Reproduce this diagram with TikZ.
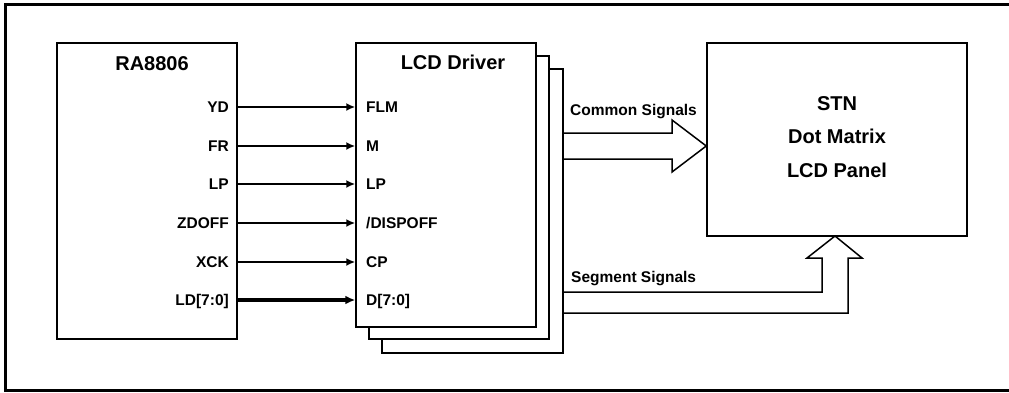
\documentclass[tikz,border=0pt]{standalone}
\usepackage{fontspec}
\setmainfont{Liberation Sans}
\usetikzlibrary{arrows.meta,positioning,calc}
\tikzset{block/.style={draw, line width=1.5pt, fill=white, minimum width=180pt, inner sep=0pt}}
\tikzset{blocktitle/.style={font=\fontsize{20}{24}\selectfont\bfseries, inner sep=0pt}}
\tikzset{pinlabel/.style={font=\fontsize{15.5}{18}\selectfont\bfseries, inner sep=0pt, text height=11pt, text depth=0pt}}
\tikzset{wire/.style={line width=2.6pt, -{Latex[length=9pt,width=8pt]}}}
\tikzset{buswire/.style={line width=4.5pt, -{Latex[length=10pt,width=9pt]}}}
\tikzset{bus/.style={line width=1.5pt, line join=miter}}

\begin{document}
\begin{tikzpicture}[x=1pt,y=-1pt]
\useasboundingbox (0,0) rectangle (1009,392);
\draw[line width=3pt] (5,4) rectangle (1010,390);

% Nodes
\node (ra) [block, minimum height=296pt] at (147,191) {};
\node (ra_title) [blocktitle, anchor=base] at (152,70.5) {RA8806};

\node (drv3) [block, minimum width=181pt, minimum height=284pt] at (472.5,211) {};
\node (drv2) [block, minimum height=283pt] at (459,197.5) {};
\node (drv) [block, minimum height=284pt] at (446,185) {};
\node (drv_title) [blocktitle, anchor=base] at (453,69) {LCD Driver};

\node (panel) [block, minimum width=260pt, minimum height=193pt] at (837,139.5) {};
\node (panel_text) [blocktitle, align=center, font=\fontsize{20}{33.5}\selectfont\bfseries] at (837,137) {STN\\ Dot Matrix\\ LCD Panel};

% Pins
\node (yd) [pinlabel, anchor=east] at (229,107) {YD};
\node (fr) [pinlabel, anchor=east] at (229,146) {FR};
\node (lp) [pinlabel, anchor=east] at (229,184) {LP};
\node (zdoff) [pinlabel, anchor=east] at (229,223) {ZDOFF};
\node (xck) [pinlabel, anchor=east] at (229,262) {XCK};
\node (ld) [pinlabel, anchor=east] at (229,300) {LD[7:0]};

\node (flm) [pinlabel, anchor=west] at (366,107) {FLM};
\node (m) [pinlabel, anchor=west] at (366,146) {M};
\node (lp_in) [pinlabel, anchor=west] at (366,184) {LP};
\node (dispoff) [pinlabel, anchor=west] at (366,223) {/DISPOFF};
\node (cp) [pinlabel, anchor=west] at (366,262) {CP};
\node (d) [pinlabel, anchor=west] at (366,300) {D[7:0]};

\node (common_label) [pinlabel, anchor=base west] at (570,115) {Common Signals};
\node (segment_label) [pinlabel, anchor=base west] at (571,282) {Segment Signals};

% Connectors
\foreach \from/\to in {yd/flm, fr/m, lp/lp_in, zdoff/dispoff, xck/cp}
  \draw[wire] (\from.east -| ra.east) -- (\to.west -| drv.west);
\draw[buswire] (ld.east -| ra.east) -- (d.west -| drv.west);

\draw[bus] (drv3.east |- 0,133) -- (672,133) -- (672,120) -- (panel.west |- 0,146)
  -- (672,172) -- (672,159) -- (drv3.east |- 0,159);
\draw[bus] (drv3.east |- 0,292) -- (822,292) -- (822,258) -- (807,258) -- (835,236)
  -- (862,258) -- (848,258) -- (848,313) -- (drv3.east |- 0,313);

\end{tikzpicture}
\end{document}
